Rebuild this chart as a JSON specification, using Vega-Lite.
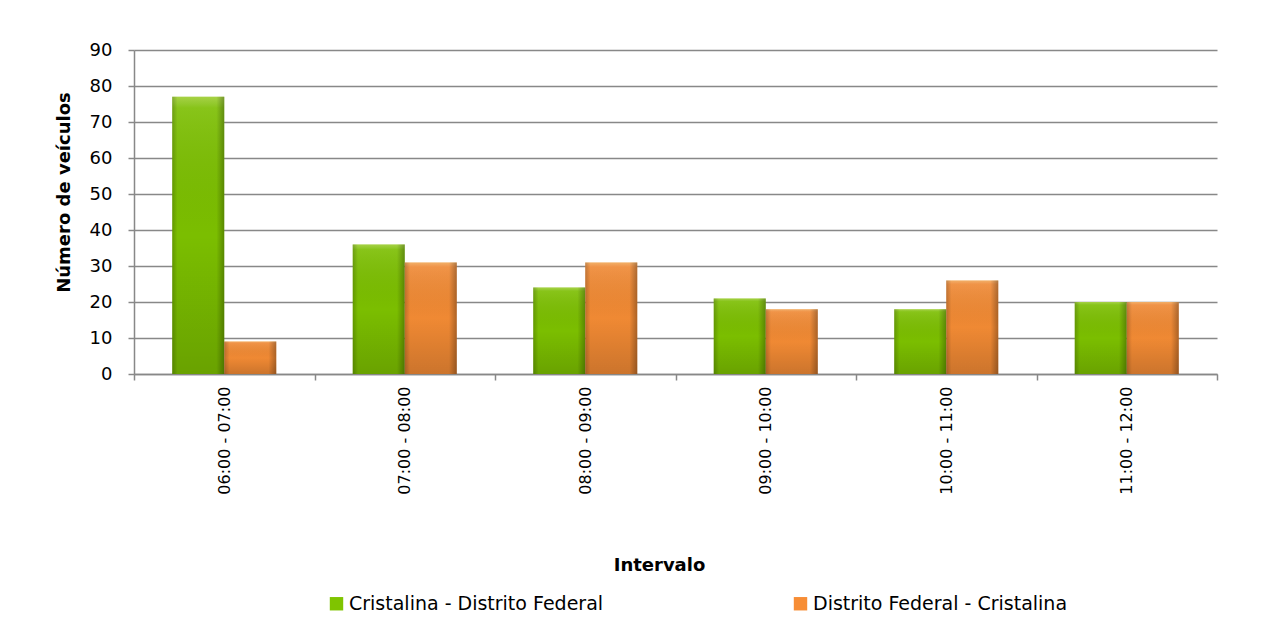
{
  "$schema": "https://vega.github.io/schema/vega-lite/v6.json",
  "width": 1083,
  "height": 324,
  "autosize": {"type": "none"},
  "padding": {"left": 134, "top": 50, "right": 70, "bottom": 254},
  "background": "white",
  "config": {
    "font": "DejaVu Sans",
    "view": {"stroke": null},
    "axis": {"labelFont": "DejaVu Sans", "titleFont": "DejaVu Sans", "labelColor": "#000", "titleColor": "#000"}
  },
  "data": {
    "values": [
      {"intervalo": "06:00 - 07:00", "sentido": "Cristalina - Distrito Federal", "veiculos": 77},
      {"intervalo": "06:00 - 07:00", "sentido": "Distrito Federal - Cristalina", "veiculos": 9},
      {"intervalo": "07:00 - 08:00", "sentido": "Cristalina - Distrito Federal", "veiculos": 36},
      {"intervalo": "07:00 - 08:00", "sentido": "Distrito Federal - Cristalina", "veiculos": 31},
      {"intervalo": "08:00 - 09:00", "sentido": "Cristalina - Distrito Federal", "veiculos": 24},
      {"intervalo": "08:00 - 09:00", "sentido": "Distrito Federal - Cristalina", "veiculos": 31},
      {"intervalo": "09:00 - 10:00", "sentido": "Cristalina - Distrito Federal", "veiculos": 21},
      {"intervalo": "09:00 - 10:00", "sentido": "Distrito Federal - Cristalina", "veiculos": 18},
      {"intervalo": "10:00 - 11:00", "sentido": "Cristalina - Distrito Federal", "veiculos": 18},
      {"intervalo": "10:00 - 11:00", "sentido": "Distrito Federal - Cristalina", "veiculos": 26},
      {"intervalo": "11:00 - 12:00", "sentido": "Cristalina - Distrito Federal", "veiculos": 20},
      {"intervalo": "11:00 - 12:00", "sentido": "Distrito Federal - Cristalina", "veiculos": 20}
    ]
  },
  "encoding": {
    "x": {
      "field": "intervalo",
      "type": "nominal",
      "scale": {"paddingInner": 0, "paddingOuter": 0},
      "axis": {
        "title": "Intervalo",
        "titleFontSize": 18,
        "titleFontWeight": "bold",
        "titlePadding": 62,
        "titleX": 525,
        "titleAlign": "center",
        "labelAngle": -90,
        "labelFontSize": 16,
        "labelPadding": 6,
        "tickBand": "extent",
        "tickSize": 6,
        "tickColor": "#888888",
        "tickWidth": 1.5,
        "domainColor": "#888888",
        "domainWidth": 1.5,
        "grid": false
      }
    },
    "xOffset": {
      "field": "sentido",
      "type": "nominal",
      "scale": {"paddingInner": 0, "paddingOuter": 0.735}
    },
    "y": {
      "field": "veiculos",
      "type": "quantitative",
      "scale": {"domain": [0, 90]},
      "axis": {
        "title": "Número de veículos",
        "titleFontSize": 18,
        "titleFontWeight": "bold",
        "titlePadding": 16,
        "titleY": 142,
        "labelFontSize": 18,
        "labelPadding": 16,
        "values": [0, 10, 20, 30, 40, 50, 60, 70, 80, 90],
        "tickSize": 6,
        "tickColor": "#888888",
        "tickWidth": 1.5,
        "domainColor": "#888888",
        "domainWidth": 1.5,
        "gridColor": "#888888",
        "gridWidth": 1.5
      }
    }
  },
  "layer": [
    {
      "mark": {"type": "bar"},
      "encoding": {
        "color": {
          "field": "sentido",
          "type": "nominal",
          "scale": {
            "domain": ["Cristalina - Distrito Federal", "Distrito Federal - Cristalina"],
            "range": ["#7fc400", "#f78d35"]
          },
          "legend": {
            "title": null,
            "orient": "none",
            "legendX": 193,
            "legendY": 544,
            "direction": "horizontal",
            "columns": 2,
            "columnPadding": 187,
            "labelFontSize": 19,
            "labelLimit": 400,
            "symbolType": "square",
            "symbolSize": 180,
            "symbolStrokeWidth": 0,
            "labelOffset": 3
          }
        }
      }
    },
    {
      "mark": {
        "type": "bar",
        "color": {"gradient": "linear", "x1": 0, "y1": 0, "x2": 0, "y2": 1, "stops": [
          {"offset": 0, "color": "rgba(255,255,200,0.35)"},
          {"offset": 0.04, "color": "rgba(255,255,255,0.1)"},
          {"offset": 0.5, "color": "rgba(0,0,0,0)"},
          {"offset": 1, "color": "rgba(0,0,0,0.15)"}
        ]}
      }
    },
    {
      "mark": {
        "type": "bar",
        "color": {"gradient": "linear", "x1": 0, "y1": 0, "x2": 1, "y2": 0, "stops": [
          {"offset": 0, "color": "rgba(0,0,0,0.22)"},
          {"offset": 0.1, "color": "rgba(0,0,0,0.03)"},
          {"offset": 0.85, "color": "rgba(0,0,0,0.03)"},
          {"offset": 1, "color": "rgba(0,0,0,0.3)"}
        ]}
      }
    }
  ]
}
